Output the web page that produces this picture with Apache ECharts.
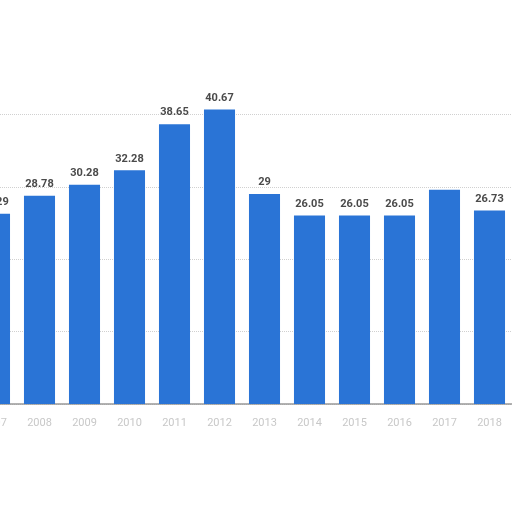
<!DOCTYPE html>
<html>
<head>
<meta charset="utf-8">
<script src="https://cdn.jsdelivr.net/npm/echarts@6/dist/echarts.min.js"></script>
<style>html,body{margin:0;padding:0;background:#fff;overflow:hidden;}#c{width:540px;height:512px;margin-left:-28px;}</style>
</head>
<body>
<div id="c"></div>
<script>
var categories = ['2007','2008','2009','2010','2011','2012','2013','2014','2015','2016','2017','2018'];
var values = [26.29, 28.78, 30.28, 32.28, 38.65, 40.67, 29, 26.05, 26.05, 26.05, 29.6, 26.73];
var labelShown = [true, true, true, true, true, true, true, true, true, true, false, true];

var chart = echarts.init(document.getElementById('c'));
chart.setOption({
  animation: false,
  backgroundColor: '#ffffff',
  grid: { left: 0, right: 0, top: 42, bottom: 108, containLabel: false },
  xAxis: {
    type: 'category',
    data: categories,
    axisLine: { show: true, lineStyle: { color: '#999999', width: 1.5 } },
    axisTick: { show: false },
    axisLabel: { color: '#c8c8c8', fontSize: 11, margin: 14, fontFamily: 'Roboto' }
  },
  yAxis: {
    type: 'value',
    min: 0, max: 50, interval: 10,
    axisLabel: { show: false },
    axisLine: { show: false },
    axisTick: { show: false },
    splitLine: { show: true, lineStyle: { color: ['#d0d0d0','#d0d0d0','#d0d0d0','#d0d0d0','#d0d0d0','rgba(0,0,0,0)'], type: 'dotted', width: 1 } }
  },
  series: [{
    type: 'bar',
    data: values.map(function (v, i) {
      return { value: v, label: { show: labelShown[i] } };
    }),
    barCategoryGap: '31%',
    itemStyle: { color: '#2a74d6' },
    label: {
      show: true,
      position: 'top',
      distance: 6,
      color: '#4a4a4a',
      fontWeight: 'bold',
      fontSize: 11,
      fontFamily: 'Roboto'
    }
  }]
});
</script>
</body>
</html>
